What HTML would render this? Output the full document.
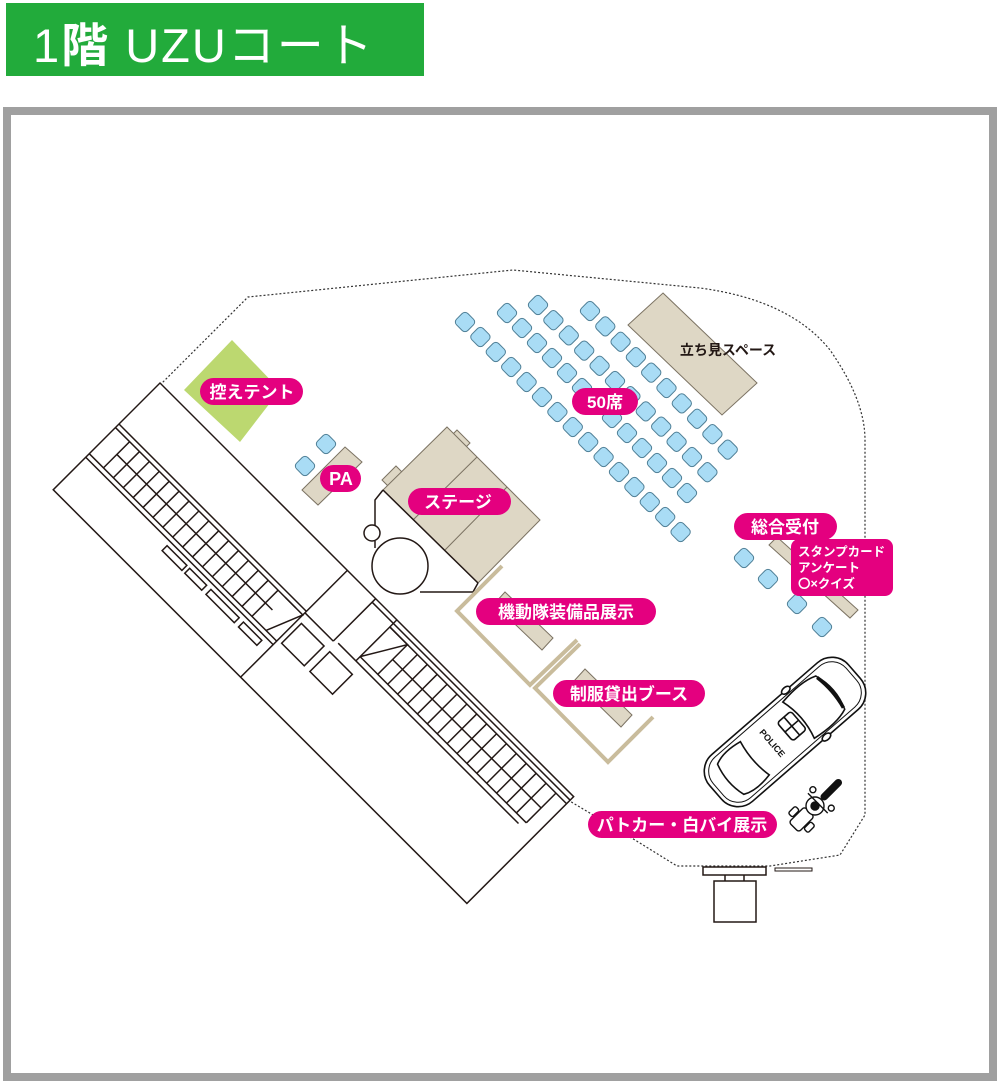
<!DOCTYPE html>
<html><head><meta charset="utf-8"><style>
html,body{margin:0;padding:0;background:#fff;}
svg{display:block;}
.lbl{font-family:"Liberation Sans","Noto Sans CJK JP",sans-serif;font-weight:bold;fill:#fff;}
</style></head><body>
<svg width="1000" height="1083" viewBox="0 0 1000 1083" xmlns="http://www.w3.org/2000/svg">
<rect x="6" y="3" width="418" height="73" fill="#22ab3b"/>
<text x="33" y="62" font-family="Liberation Sans,'Noto Sans CJK JP',sans-serif" font-size="47" letter-spacing="2" fill="#fff">1<tspan font-weight="bold" font-family="'Noto Sans CJK JP',sans-serif">階</tspan> UZU<tspan font-family="'Noto Sans CJK JP',sans-serif">コート</tspan></text>
<rect x="7" y="111" width="986" height="966" fill="none" stroke="#a0a0a0" stroke-width="8"/>

<path d="M160,385 L248,297 L513,270 L700,288 Q790,300 830,350 Q865,400 865,440 L865,815 L840,855 L770,866 L677,866 L635,840 L568,800" fill="none" stroke="#333" stroke-width="1.2" stroke-dasharray="2,2"/>

<polygon points="232,340 280,390 240,442 184,390" fill="#bcd870"/>

<g transform="translate(160,383) rotate(45)" fill="none" stroke="#231815" stroke-width="1.5">
 <rect x="0" y="0" width="585" height="151" fill="#fff"/>
 <line x1="0" y1="58" x2="265" y2="58"/>
 <line x1="0" y1="63" x2="255" y2="63"/>
 <line x1="0" y1="100" x2="265" y2="100"/>
 <line x1="0" y1="105" x2="265" y2="105"/>
 <line x1="20" y1="81" x2="240" y2="81"/>
 <g>
 <line x1="20" y1="63" x2="20" y2="100"/><line x1="34" y1="63" x2="34" y2="100"/><line x1="48" y1="63" x2="48" y2="100"/><line x1="62" y1="63" x2="62" y2="100"/><line x1="76" y1="63" x2="76" y2="100"/><line x1="90" y1="63" x2="90" y2="100"/><line x1="104" y1="63" x2="104" y2="100"/><line x1="118" y1="63" x2="118" y2="100"/><line x1="132" y1="63" x2="132" y2="100"/><line x1="146" y1="63" x2="146" y2="100"/><line x1="160" y1="63" x2="160" y2="100"/><line x1="174" y1="63" x2="174" y2="100"/><line x1="188" y1="63" x2="188" y2="100"/><line x1="202" y1="63" x2="202" y2="100"/><line x1="216" y1="63" x2="216" y2="100"/><line x1="230" y1="63" x2="230" y2="100"/>
 </g>
 <polyline points="240,63 265,63 250,100"/>
 <rect x="120" y="110" width="28" height="7"/><rect x="152" y="110" width="24" height="7"/><rect x="182" y="110" width="40" height="7"/><rect x="228" y="110" width="26" height="7"/>
 <line x1="265" y1="0" x2="265" y2="151"/>
 <line x1="305" y1="0" x2="305" y2="60"/>
 <line x1="265" y1="60" x2="305" y2="60"/>
 <line x1="335" y1="0" x2="335" y2="58"/>
 <rect x="270" y="70" width="32" height="28"/>
 <rect x="310" y="70" width="32" height="28"/>
 <line x1="305" y1="5" x2="585" y2="5"/>
 <line x1="335" y1="10" x2="585" y2="10"/>
 <line x1="335" y1="52" x2="570" y2="52"/>
 <line x1="310" y1="58" x2="565" y2="58"/>
 <line x1="360" y1="31" x2="570" y2="31"/>
 <polyline points="335,10 360,10 335,52"/>
 <g>
 <line x1="360" y1="10" x2="360" y2="52"/><line x1="374" y1="10" x2="374" y2="52"/><line x1="388" y1="10" x2="388" y2="52"/><line x1="402" y1="10" x2="402" y2="52"/><line x1="416" y1="10" x2="416" y2="52"/><line x1="430" y1="10" x2="430" y2="52"/><line x1="444" y1="10" x2="444" y2="52"/><line x1="458" y1="10" x2="458" y2="52"/><line x1="472" y1="10" x2="472" y2="52"/><line x1="486" y1="10" x2="486" y2="52"/><line x1="500" y1="10" x2="500" y2="52"/><line x1="514" y1="10" x2="514" y2="52"/><line x1="528" y1="10" x2="528" y2="52"/><line x1="542" y1="10" x2="542" y2="52"/><line x1="556" y1="10" x2="556" y2="52"/><line x1="570" y1="10" x2="570" y2="52"/>
 </g>
</g>

<defs>
<g id="s"><rect x="-8" y="-8" width="16" height="16" rx="4" transform="rotate(45)" fill="#a9dcf5" stroke="#4f7f96" stroke-width="1"/></g>
</defs>
<g id="seats">
<use href="#s" x="465" y="322"/><use href="#s" x="480.4" y="337"/><use href="#s" x="495.8" y="352"/><use href="#s" x="511.2" y="367"/><use href="#s" x="526.6" y="382"/><use href="#s" x="542" y="397"/><use href="#s" x="557.4" y="412"/><use href="#s" x="572.8" y="427"/><use href="#s" x="588.2" y="442"/><use href="#s" x="603.6" y="457"/><use href="#s" x="619" y="472"/><use href="#s" x="634.4" y="487"/><use href="#s" x="649.8" y="502"/><use href="#s" x="665.2" y="517"/><use href="#s" x="680.6" y="532"/>
<use href="#s" x="507" y="313"/><use href="#s" x="522" y="328"/><use href="#s" x="537" y="343"/><use href="#s" x="552" y="358"/><use href="#s" x="567" y="373"/><use href="#s" x="582" y="388"/><use href="#s" x="597" y="403"/><use href="#s" x="612" y="418"/><use href="#s" x="627" y="433"/><use href="#s" x="642" y="448"/><use href="#s" x="657" y="463"/><use href="#s" x="672" y="478"/><use href="#s" x="687" y="493"/>
<use href="#s" x="538" y="305"/><use href="#s" x="553.4" y="320.2"/><use href="#s" x="568.8" y="335.4"/><use href="#s" x="584.2" y="350.6"/><use href="#s" x="599.6" y="365.8"/><use href="#s" x="615" y="381"/><use href="#s" x="630.4" y="396.2"/><use href="#s" x="645.8" y="411.4"/><use href="#s" x="661.2" y="426.6"/><use href="#s" x="676.6" y="441.8"/><use href="#s" x="692" y="457"/><use href="#s" x="707.4" y="472.2"/>
<use href="#s" x="590" y="311"/><use href="#s" x="605.3" y="326.4"/><use href="#s" x="620.6" y="341.8"/><use href="#s" x="635.9" y="357.2"/><use href="#s" x="651.2" y="372.6"/><use href="#s" x="666.5" y="388"/><use href="#s" x="681.8" y="403.4"/><use href="#s" x="697.1" y="418.8"/><use href="#s" x="712.4" y="434.2"/><use href="#s" x="727.7" y="449.6"/>
<use href="#s" x="326" y="444"/><use href="#s" x="305" y="466"/>
<use href="#s" x="744" y="558"/><use href="#s" x="768" y="579"/><use href="#s" x="797" y="604"/><use href="#s" x="822" y="627"/>
</g>

<polygon points="663,293 757,383 722,415 628,325" fill="#ded7c5" stroke="#7b7262" stroke-width="1"/>
<polygon points="345,447 362,462 318,505 302,490" fill="#ded7c5" stroke="#7b7262" stroke-width="1"/>
<polygon points="777,537 858,610 850,618 769,545" fill="#ded7c5" stroke="#7b7262" stroke-width="1"/>
<polygon points="505,592 553,638 542,650 494,604" fill="#ded7c5" stroke="#7b7262" stroke-width="1"/>
<polygon points="585,669 632,715 621,727 574,681" fill="#ded7c5" stroke="#7b7262" stroke-width="1"/>

<g stroke="#7b7262" stroke-width="1" fill="#ded7c5">
 <polygon points="457,430 470,443 462,451 449,438"/>
 <polygon points="396,466 404,474 390,488 382,480"/>
 <polygon points="447,427 540,520 478,583 383,490"/>
 <line x1="477" y1="457" x2="413" y2="520"/>
 <line x1="507" y1="487" x2="445" y2="550"/>
</g>
<g fill="none" stroke="#231815" stroke-width="1.5">
 <polyline points="383,490 375,500 375,526"/>
 <line x1="383" y1="490" x2="478" y2="583"/>
 <polyline points="478,583 473,592 420,592"/>
 <circle cx="372" cy="533" r="8" fill="#fff"/>
 <circle cx="400" cy="566" r="28" fill="#fff"/>
 <line x1="375" y1="541" x2="375" y2="548"/>
</g>

<g fill="none" stroke="#c9bc9c" stroke-width="4">
 <polyline points="502,566 457,611 530,685 577,640"/>
 <polyline points="580,644 535,688 608,762 653,717"/>
</g>

<g transform="translate(785,732) rotate(-41)" fill="#fff" stroke="#111" stroke-width="1.6">
 <rect x="-92" y="-31" width="184" height="62" rx="22"/>
 <rect x="-88" y="-27" width="176" height="54" rx="19" fill="none" stroke-width="1"/>
 <path d="M18,-24 Q45,-28 60,-22 Q68,0 60,22 Q45,28 18,24 Q25,0 18,-24Z"/>
 <path d="M60,-20 Q64,0 60,20" fill="none" stroke-width="3.5"/>
 <path d="M-40,-22 Q-60,-26 -72,-20 Q-78,0 -72,20 Q-60,26 -40,22 Q-45,0 -40,-22Z"/>
 <rect x="0" y="-12" width="18" height="24" rx="3"/>
 <line x1="9" y1="-12" x2="9" y2="12"/><line x1="0" y1="0" x2="18" y2="0"/>
 <ellipse cx="28" cy="-31" rx="5" ry="3"/><ellipse cx="28" cy="31" rx="5" ry="3"/>
 <text x="-16" y="4" font-family="Liberation Sans,sans-serif" font-weight="bold" font-size="9" fill="#111" stroke="none" transform="rotate(90 -16 0)" text-anchor="middle">POLICE</text>
</g>
<g transform="translate(815,806) rotate(-45)" fill="#fff" stroke="#111" stroke-width="1.4">
 <rect x="-30" y="-7" width="22" height="14" rx="3"/>
 <rect x="-24" y="-14" width="10" height="6" rx="2"/><rect x="-24" y="8" width="10" height="6" rx="2"/>
 <circle cx="0" cy="0" r="9"/>
 <circle cx="0" cy="0" r="4" fill="#111"/>
 <line x1="4" y1="-14" x2="4" y2="14"/>
 <rect x="10" y="-3" width="26" height="6" rx="3" fill="#111"/>
 <circle cx="10" cy="-13" r="3"/><circle cx="10" cy="13" r="3"/>
</g>

<g fill="#fff" stroke="#231815" stroke-width="1.5">
 <rect x="703" y="867" width="63" height="8"/>
 <line x1="725" y1="875" x2="725" y2="881"/><line x1="744" y1="875" x2="744" y2="881"/>
 <rect x="714" y="881" width="42" height="41"/>
 <rect x="775" y="868" width="37" height="3" stroke-width="1"/>
</g>

<g fill="#e4007f">
 <rect x="200" y="378" width="103" height="27" rx="13.5"/>
 <rect x="320" y="465" width="41" height="27" rx="13.5"/>
 <rect x="408" y="488" width="103" height="27" rx="13.5"/>
 <rect x="572" y="388" width="66" height="27" rx="13.5"/>
 <rect x="476" y="598" width="180" height="27" rx="13.5"/>
 <rect x="553" y="680" width="152" height="27" rx="13.5"/>
 <rect x="734" y="513" width="103" height="27" rx="13.5"/>
 <rect x="791" y="539" width="102" height="57" rx="8"/>
 <rect x="588" y="811" width="189" height="27" rx="13.5"/>
</g>
<g class="lbl" font-size="17" text-anchor="middle">
 <text x="252" y="398">控えテント</text>
 <text x="341" y="485" font-size="18">PA</text>
 <text x="458" y="508">ステージ</text>
 <text x="605" y="408">50席</text>
 <text x="566" y="618">機動隊装備品展示</text>
 <text x="629" y="700">制服貸出ブース</text>
 <text x="785" y="533">総合受付</text>
 <text x="682" y="831">パトカー・白バイ展示</text>
</g>
<g class="lbl" font-size="12.5" font-weight="normal">
 <text x="798" y="556">スタンプカード</text>
 <text x="798" y="572">アンケート</text>
 <text x="798" y="588">〇×クイズ</text>
</g>
<text x="728" y="355" text-anchor="middle" font-family="Liberation Sans,'Noto Sans CJK JP',sans-serif" font-weight="bold" font-size="14" fill="#231815">立ち見スペース</text>
</svg>
</body></html>
